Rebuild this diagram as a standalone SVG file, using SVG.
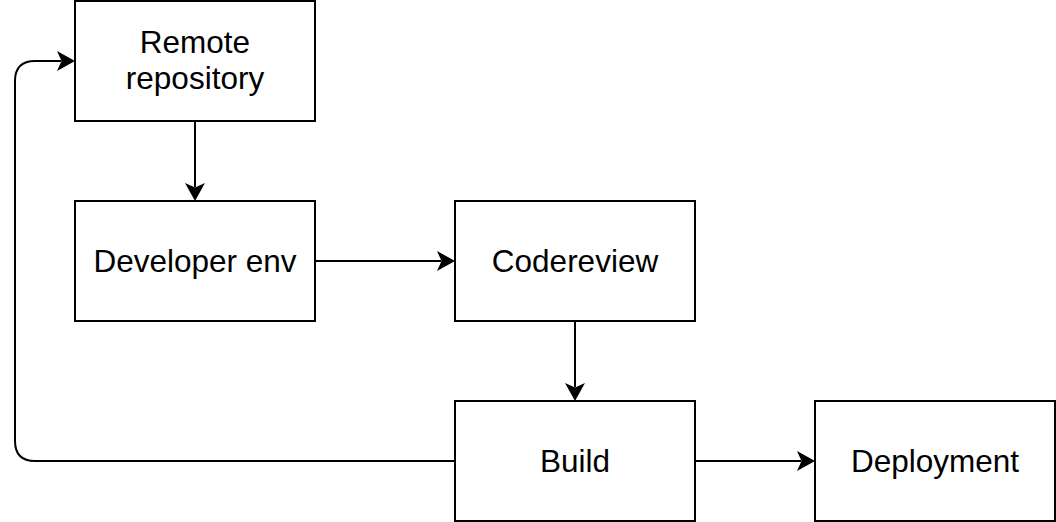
<svg xmlns="http://www.w3.org/2000/svg" width="1056" height="522" viewBox="0 0 1056 522">
  <style>
    .box { fill: #ffffff; stroke: #000000; stroke-width: 2; }
    .lbl { font-family: "Liberation Sans", Arial, Helvetica, sans-serif; font-size: 31.5px; fill: #000000; text-anchor: middle; }
    .edge { fill: none; stroke: #000000; stroke-width: 2; }
  </style>
  <defs>
    <marker id="arrow" markerUnits="userSpaceOnUse" viewBox="0 0 18 20" markerWidth="18" markerHeight="20" refX="4" refY="10" orient="auto">
      <path d="M0,0 L18,10 L0,20 L4.5,10 Z" fill="#000000"/>
    </marker>
  </defs>
  <rect width="1056" height="522" fill="#ffffff"/>
  <g id="connectors">
    <path class="edge" d="M195,121 L195,187" marker-end="url(#arrow)"/>
    <path class="edge" d="M315,261 L441,261" marker-end="url(#arrow)"/>
    <path class="edge" d="M575,321 L575,387" marker-end="url(#arrow)"/>
    <path class="edge" d="M695,461 L801,461" marker-end="url(#arrow)"/>
    <path class="edge" d="M455,461 L35,461 Q15,461 15,441 L15,81 Q15,61 35,61 L61,61" marker-end="url(#arrow)"/>
  </g>
  <g id="remote-repository">
    <rect class="box" x="75" y="1" width="240" height="120"/>
    <text class="lbl" x="195" y="53">Remote</text>
    <text class="lbl" x="195" y="89">repository</text>
  </g>
  <g id="developer-env">
    <rect class="box" x="75" y="201" width="240" height="120"/>
    <text class="lbl" x="195" y="272">Developer env</text>
  </g>
  <g id="codereview">
    <rect class="box" x="455" y="201" width="240" height="120"/>
    <text class="lbl" x="575" y="272">Codereview</text>
  </g>
  <g id="build">
    <rect class="box" x="455" y="401" width="240" height="120"/>
    <text class="lbl" x="575" y="472">Build</text>
  </g>
  <g id="deployment">
    <rect class="box" x="815" y="401" width="240" height="120"/>
    <text class="lbl" x="935" y="472">Deployment</text>
  </g>
</svg>
